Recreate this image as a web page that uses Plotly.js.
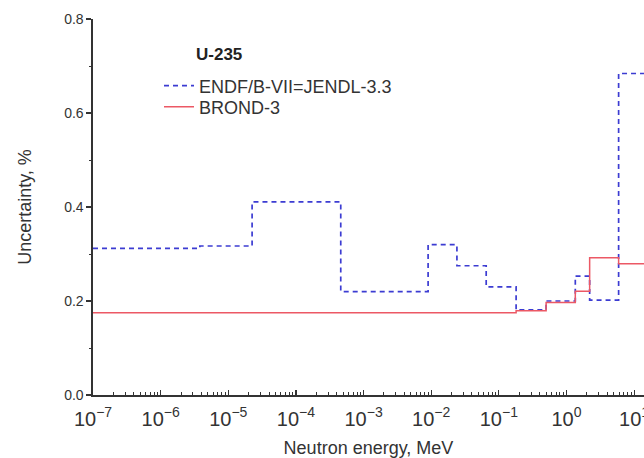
<!DOCTYPE html>
<html>
<head>
<meta charset="utf-8">
<script src="https://cdn.plot.ly/plotly-3.0.1.min.js"></script>
<style>html,body{margin:0;padding:0;background:#fff;overflow:hidden;}#chart{width:644px;height:458px;}</style>
</head>
<body>
<div id="chart"></div>
<script>
// ENDF/B-VII=JENDL-3.3 group boundaries (MeV) and uncertainties (%)
const endfEnergy = [1e-7, 3.8e-6, 2.25e-5, 4.6e-4, 9e-3, 2.4e-2, 6.5e-2, 0.18, 0.5, 1.35, 2.2, 5.9, 20];
const endfValues = [0.312, 0.317, 0.411, 0.220, 0.320, 0.275, 0.230, 0.181, 0.200, 0.253, 0.202, 0.684, 0.684];
// BROND-3
const brondEnergy = [1e-7, 0.18, 0.5, 1.35, 2.2, 5.9, 20];
const brondValues = [0.175, 0.179, 0.197, 0.221, 0.292, 0.279, 0.279];

const seriesNames = ["ENDF/B-VII=JENDL-3.3", "BROND-3"];
const yTicks = [0.0, 0.2, 0.4, 0.6, 0.8];
const yTickText = ["0.0", "0.2", "0.4", "0.6", "0.8"];

const font = "Liberation Sans, Arial, sans-serif";
const axisColor = "#333333";

const traces = [
  {x: endfEnergy, y: endfValues, name: seriesNames[0], mode: "lines", legend: "legend",
   line: {shape: "hv", color: "#3c3cd2", width: 1.7, dash: "5px,4px"}},
  {x: brondEnergy, y: brondValues, name: seriesNames[1], mode: "lines", legend: "legend2",
   line: {shape: "hv", color: "#ec5865", width: 1.5}}
];

function px2x(px) { return (px - 93) / 551; }
function px2y(py) { return 1 - (py - 19) / 376; }

const legendFont = {family: font, size: 18, color: axisColor};
const layout = {
  width: 644, height: 458,
  margin: {l: 93, r: 0, t: 19, b: 63, pad: 0},
  paper_bgcolor: "#ffffff", plot_bgcolor: "#ffffff",
  font: {family: font, size: 14, color: axisColor},
  showlegend: true,
  legend: {x: px2x(159), y: px2y(86), xanchor: "left", yanchor: "middle",
           bgcolor: "rgba(0,0,0,0)", borderwidth: 0, font: legendFont},
  legend2: {x: px2x(159), y: px2y(107), xanchor: "left", yanchor: "middle",
            bgcolor: "rgba(0,0,0,0)", borderwidth: 0, font: legendFont},
  xaxis: {
    type: "log", range: [-7, 1.146], tickmode: "linear", tick0: 0, dtick: 1,
    exponentformat: "power", labelalias: {"1": "10<sup>0</sup>", "10": "10<sup>1</sup>"},
    ticklabeloverflow: "allow", ticklabelstandoff: 6,
    showgrid: false, zeroline: false, showline: true, linecolor: axisColor, linewidth: 1.6,
    ticks: "inside", ticklen: 5, tickwidth: 1.2, tickcolor: axisColor,
    minor: {ticks: "inside", ticklen: 3, tickwidth: 1, tickcolor: axisColor, dtick: "D1", showgrid: false},
    tickfont: {family: font, size: 16, color: axisColor},
    title: {text: "Neutron energy, MeV", font: {family: font, size: 18, color: axisColor}, standoff: 14}
  },
  yaxis: {
    range: [0, 0.8], tickvals: yTicks, ticktext: yTickText,
    showgrid: false, zeroline: false, showline: true, linecolor: axisColor, linewidth: 1.6,
    ticks: "outside", ticklen: 5, tickwidth: 1.2, tickcolor: axisColor,
    minor: {ticks: "outside", ticklen: 2, tickwidth: 1, tickcolor: axisColor, dtick: 0.1, showgrid: false},
    tickfont: {family: font, size: 14, color: axisColor},
    title: {text: "Uncertainty, %", font: {family: font, size: 18, color: axisColor}, standoff: 28}
  },
  annotations: [
    {text: "<b>U-235</b>", xref: "paper", yref: "paper", x: px2x(194), y: px2y(55),
     xanchor: "left", yanchor: "middle", showarrow: false, font: {family: font, size: 17, color: "#222"}}
  ]
};

Plotly.newPlot("chart", traces, layout, {displayModeBar: false, staticPlot: true});
</script>
</body>
</html>
